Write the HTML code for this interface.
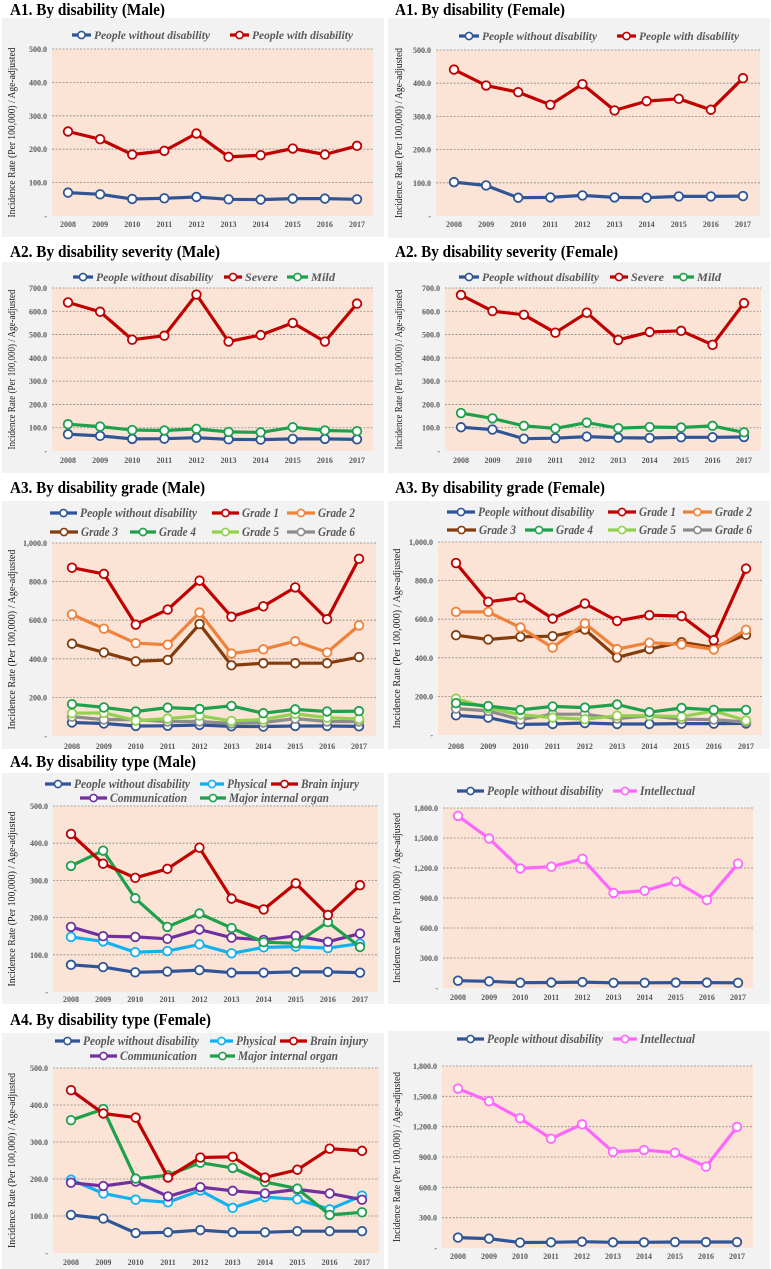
<!DOCTYPE html>
<html><head><meta charset="utf-8">
<style>
html,body{margin:0;padding:0;background:#fff;}
svg{display:block;font-family:"Liberation Serif",serif;}
</style></head>
<body>
<svg id="root" width="771" height="1269" viewBox="0 0 771 1269"></svg>
<script>
// ---- data ----
const years = ["2008","2009","2010","2011","2012","2013","2014","2015","2016","2017"];
const a1mWithout = [70,65,51,53,57,50,49,52,52,50];
const a1mWith = [253,230,184,195,247,177,182,202,184,210];
const a1fWithout = [102,92,55,56,62,56,55,59,59,60];
const a1fWith = [441,393,373,335,397,318,346,353,320,415];
const a2mWithout = [72,65,52,53,57,50,49,52,52,50];
const a2mSevere = [638,598,478,495,672,470,498,550,470,633];
const a2mMild = [115,105,90,88,95,82,80,102,88,85];
const a2fWithout = [102,92,53,55,62,57,56,59,59,60];
const a2fSevere = [670,601,585,508,594,477,511,516,456,635];
const a2fMild = [163,140,108,97,122,98,103,101,108,80];
const a3mWithout = [70,65,52,53,57,50,49,52,52,50];
const a3mG1 = [872,840,577,655,805,618,672,770,605,918];
const a3mG2 = [630,556,481,473,640,427,449,491,433,573];
const a3mG3 = [478,433,387,394,580,366,377,377,377,409];
const a3mG4 = [165,148,127,147,140,156,118,138,127,129];
const a3mG5 = [118,120,80,90,105,78,85,115,95,88];
const a3mG6 = [100,85,85,75,75,65,70,90,75,75];
const a3fWithout = [102,90,55,57,62,57,57,59,59,60];
const a3fG1 = [891,690,712,603,681,591,621,616,491,862];
const a3fG2 = [638,638,557,453,578,445,478,469,443,545];
const a3fG3 = [517,495,509,512,547,402,445,481,453,519];
const a3fG4 = [165,150,130,148,142,158,118,140,130,130];
const a3fG5 = [188,140,105,90,82,100,100,95,125,75];
const a3fG6 = [137,125,80,108,108,85,100,82,80,67];
const a4mWithout = [73,67,53,55,59,52,52,54,54,52];
const a4mPhysical = [148,136,107,110,128,104,120,122,118,130];
const a4mBrain = [425,345,307,331,388,251,222,292,207,287];
const a4mComm = [175,150,148,143,168,146,140,151,135,157];
const a4mOrgan = [339,380,252,175,211,172,134,131,188,121];
const a4mIntel = [1721,1495,1196,1213,1292,950,973,1063,880,1243];
const a4fWithout = [103,93,54,56,62,56,56,59,59,59];
const a4fPhysical = [198,161,144,137,169,122,151,145,118,155];
const a4fBrain = [440,377,366,204,258,260,204,225,282,276];
const a4fComm = [190,181,193,153,178,168,161,172,161,144];
const a4fOrgan = [359,389,201,210,244,230,192,174,103,110];
const a4fIntel = [1576,1451,1283,1081,1223,950,969,943,805,1197];
const ticks500 = [0,100,200,300,400,500];
const ticks700 = [0,100,200,300,400,500,600,700];
const ticks1000 = [0,200,400,600,800,1000];
const ticks1800 = [0,300,600,900,1200,1500,1800];

const C = {blue:"#2f5597",red:"#c00000",green:"#1ea04c",orange:"#f0813a",brown:"#843c0c",lgreen:"#92d050",gray:"#8c8c8c",cyan:"#13b0ef",purple:"#7030a0",pink:"#ff66ff"};
const NS="http://www.w3.org/2000/svg";
const root=document.getElementById('root');
function mk(tag,attrs,parent){const e=document.createElementNS(NS,tag);for(const k in attrs)e.setAttribute(k,attrs[k]);(parent||root).appendChild(e);return e;}
function fmt(v){if(v===0)return "-";let s=String(Math.floor(v));s=s.replace(/\B(?=(\d{3})+(?!\d))/g,",");return s+".0";}

function panel(cfg){
  const g=mk('g',{});
  
  
  const t=mk('text',{x:cfg.title[0],y:cfg.title[1],'font-size':17,'font-weight':'bold',fill:'#000',textLength:cfg.title[2],lengthAdjust:'spacingAndGlyphs'},g);
  t.textContent=cfg.titleText;
  
  
  const b=cfg.box;
  const bg=mk('rect',{x:b[0],y:b[1],width:b[2]-b[0],height:b[3]-b[1],fill:'#f2f2f2'},g);
  
  
  const p=cfg.plot; // left,right,top,bottom
  const pa=mk('rect',{x:p[0],y:p[2],width:p[1]-p[0],height:p[3]-p[2],fill:'#fbe4d5'},g);
  
  
  const ymax=cfg.ticks[cfg.ticks.length-1];
  const yS=v=>p[3]-(v/ymax)*(p[3]-p[2]);
  const xS=i=>cfg.x0+(cfg.x1-cfg.x0)*i/(years.length-1);
  cfg.ticks.forEach(v=>{
    if(v>0){const gl=mk('line',{x1:p[0],x2:p[1],y1:yS(v),y2:yS(v),stroke:'#8a8a8a','stroke-width':0.8,'stroke-dasharray':'2,1.5'},g);
      
      }
    const tl=mk('text',{x:p[0]-5,y:yS(v)+3,'font-size':8,'font-weight':'bold',fill:'#595959','text-anchor':'end'},g);
    tl.textContent=fmt(v);
    
    
  });
  years.forEach((yr,i)=>{
    const xl=mk('text',{x:xS(i),y:cfg.xlabY+3,'font-size':8,'font-weight':'bold',fill:'#595959','text-anchor':'middle'},g);
    xl.textContent=yr;
    
    
  });
  const cy=(p[2]+p[3])/2;
  const yt=mk('text',{x:0,y:0,'font-size':11,fill:'#222','text-anchor':'middle',transform:`translate(${cfg.ytX},${cy}) rotate(-90)`,textLength:cfg.ytLen||170,lengthAdjust:'spacingAndGlyphs'},g);
  yt.textContent="Incidence Rate (Per 100,000) / Age-adjusted";
  
  
  cfg.series.forEach(s=>{
    const sg=mk('g',{},g);
    
    
    const pts=s.values.map((v,i)=>xS(i).toFixed(1)+','+yS(v).toFixed(1)).join(' ');
    const pl=mk('polyline',{points:pts,fill:'none',stroke:s.color,'stroke-width':3.2,'stroke-linejoin':'round'},sg);
    
    
    s.values.forEach((v,i)=>{
      const c=mk('circle',{cx:xS(i),cy:yS(v),r:4.3,fill:'#fff',stroke:s.color,'stroke-width':1.8},sg);
      
      
    });
  });
  cfg.legend.forEach(l=>{
    const s=cfg.series.find(q=>q.key===l.key);
    const lg=mk('g',{},g);
    
    
    mk('line',{x1:l.lx,x2:l.tx-3,y1:l.y,y2:l.y,stroke:s.color,'stroke-width':3.2},lg);
    mk('circle',{cx:(l.lx+l.tx-3)/2,cy:l.y,r:3.6,fill:'#fff',stroke:s.color,'stroke-width':1.6},lg);
    const tt=mk('text',{x:l.tx,y:l.y+4,'font-size':l.fs||12,'font-style':'italic','font-weight':'bold',fill:'#595959',textLength:l.w,lengthAdjust:'spacingAndGlyphs'},lg);
    tt.textContent=s.name;
  });
}

const W="People without disability";
// A1 Male
panel({id:'a1-male',titleText:"A1. By disability (Male)",title:[10,15,155],box:[2,18,384,237],plot:[52,373,49,216],x0:68,x1:357,xlabY:224,ytX:15,ticks:ticks500,
 series:[{key:'without',name:W,color:C.blue,values:a1mWithout},{key:'with',name:"People with disability",color:C.red,values:a1mWith}],
 legend:[{key:'without',lx:72,tx:94,w:116,y:35},{key:'with',lx:230,tx:252,w:101,y:35}]});
// A1 Female
panel({id:'a1-female',titleText:"A1. By disability (Female)",title:[395,15,170],box:[388,18,770,238],plot:[436,760,50,216],x0:454,x1:743,xlabY:224,ytX:402,ticks:ticks500,
 series:[{key:'without',name:W,color:C.blue,values:a1fWithout},{key:'with',name:"People with disability",color:C.red,values:a1fWith}],
 legend:[{key:'without',lx:459,tx:482,w:115,y:36},{key:'with',lx:617,tx:639,w:100,y:36}]});
// A2 Male
panel({id:'a2-male',titleText:"A2. By disability severity (Male)",title:[10,257,210],box:[2,262,384,473],plot:[52,373,288,451],x0:68,x1:357,xlabY:460,ytX:15,ticks:ticks700,ytLen:160,
 series:[{key:'without',name:W,color:C.blue,values:a2mWithout},{key:'severe',name:"Severe",color:C.red,values:a2mSevere},{key:'mild',name:"Mild",color:C.green,values:a2mMild}],
 legend:[{key:'without',lx:73,tx:96,w:117,y:277},{key:'severe',lx:224,tx:245,w:33,y:277},{key:'mild',lx:287,tx:311,w:24,y:277}]});
// A2 Female
panel({id:'a2-female',titleText:"A2. By disability severity (Female)",title:[395,257,223],box:[388,262,770,473],plot:[445,761,288,451],x0:461,x1:744,xlabY:460,ytX:402,ticks:ticks700,ytLen:160,
 series:[{key:'without',name:W,color:C.blue,values:a2fWithout},{key:'severe',name:"Severe",color:C.red,values:a2fSevere},{key:'mild',name:"Mild",color:C.green,values:a2fMild}],
 legend:[{key:'without',lx:459,tx:482,w:117,y:277},{key:'severe',lx:610,tx:631,w:33,y:277},{key:'mild',lx:673,tx:697,w:24,y:277}]});
// A3 Male
panel({id:'a3-male',titleText:"A3. By disability grade (Male)",title:[10,493,195],box:[2,501,384,749],plot:[52,376,543,736],x0:72,x1:359,xlabY:746,ytX:15,ticks:ticks1000,ytLen:180,
 series:[{key:'without',name:W,color:C.blue,values:a3mWithout},{key:'g6',name:"Grade 6",color:C.gray,values:a3mG6},{key:'g5',name:"Grade 5",color:C.lgreen,values:a3mG5},{key:'g4',name:"Grade 4",color:C.green,values:a3mG4},{key:'g3',name:"Grade 3",color:C.brown,values:a3mG3},{key:'g2',name:"Grade 2",color:C.orange,values:a3mG2},{key:'g1',name:"Grade 1",color:C.red,values:a3mG1}],
 legend:[{key:'without',lx:50,tx:80,w:117,y:513,fs:13},{key:'g1',lx:212,tx:242,w:37,y:513,fs:13},{key:'g2',lx:287,tx:318,w:37,y:513,fs:13},
 {key:'g3',lx:50,tx:81,w:37,y:532,fs:13},{key:'g4',lx:130,tx:159,w:37,y:532,fs:13},{key:'g5',lx:212,tx:242,w:37,y:532,fs:13},{key:'g6',lx:287,tx:318,w:37,y:532,fs:13}]});
// A3 Female
panel({id:'a3-female',titleText:"A3. By disability grade (Female)",title:[395,493,210],box:[388,501,770,749],plot:[438,762,542,735],x0:456,x1:746,xlabY:746,ytX:400,ticks:ticks1000,ytLen:180,
 series:[{key:'without',name:W,color:C.blue,values:a3fWithout},{key:'g6',name:"Grade 6",color:C.gray,values:a3fG6},{key:'g5',name:"Grade 5",color:C.lgreen,values:a3fG5},{key:'g4',name:"Grade 4",color:C.green,values:a3fG4},{key:'g3',name:"Grade 3",color:C.brown,values:a3fG3},{key:'g2',name:"Grade 2",color:C.orange,values:a3fG2},{key:'g1',name:"Grade 1",color:C.red,values:a3fG1}],
 legend:[{key:'without',lx:447,tx:478,w:116,y:512,fs:13},{key:'g1',lx:608,tx:639,w:37,y:512,fs:13},{key:'g2',lx:683,tx:715,w:37,y:512,fs:13},
 {key:'g3',lx:447,tx:479,w:37,y:530,fs:13},{key:'g4',lx:525,tx:556,w:37,y:530,fs:13},{key:'g5',lx:608,tx:639,w:37,y:530,fs:13},{key:'g6',lx:683,tx:715,w:37,y:530,fs:13}]});
// A4 Male
panel({id:'a4-male',titleText:"A4. By disability type (Male)",title:[10,767,186],box:[2,773,384,1004],plot:[53,378,806,992],x0:71,x1:360,xlabY:999,ytX:15,ticks:ticks500,ytLen:175,
 series:[{key:'without',name:W,color:C.blue,values:a4mWithout},{key:'physical',name:"Physical",color:C.cyan,values:a4mPhysical},{key:'comm',name:"Communication",color:C.purple,values:a4mComm},{key:'organ',name:"Major internal organ",color:C.green,values:a4mOrgan},{key:'brain',name:"Brain injury",color:C.red,values:a4mBrain}],
 legend:[{key:'without',lx:45,tx:74,w:116,y:784,fs:13},{key:'physical',lx:200,tx:227,w:40,y:784,fs:13},{key:'brain',lx:271,tx:301,w:58,y:784,fs:13},
 {key:'comm',lx:80,tx:110,w:77,y:798,fs:13},{key:'organ',lx:200,tx:229,w:100,y:798,fs:13}]});
// A4 Male intellectual
panel({id:'a4-male-intellectual',titleText:"",title:[395,767,1],box:[388,773,770,1004],plot:[443,753,808,988],x0:458,x1:738,xlabY:997,ytX:400,ticks:ticks1800,ytLen:170,
 series:[{key:'without',name:W,color:C.blue,values:a4mWithout},{key:'intel',name:"Intellectual",color:C.pink,values:a4mIntel}],
 legend:[{key:'without',lx:457,tx:487,w:116,y:791,fs:13},{key:'intel',lx:613,tx:640,w:55,y:791,fs:13}]});
// A4 Female
panel({id:'a4-female',titleText:"A4. By disability type (Female)",title:[10,1025,201],box:[2,1033,384,1269],plot:[53,379,1068,1253],x0:71,x1:362,xlabY:1262,ytX:15,ticks:ticks500,ytLen:175,
 series:[{key:'without',name:W,color:C.blue,values:a4fWithout},{key:'physical',name:"Physical",color:C.cyan,values:a4fPhysical},{key:'comm',name:"Communication",color:C.purple,values:a4fComm},{key:'organ',name:"Major internal organ",color:C.green,values:a4fOrgan},{key:'brain',name:"Brain injury",color:C.red,values:a4fBrain}],
 legend:[{key:'without',lx:55,tx:83,w:116,y:1041,fs:13},{key:'physical',lx:210,tx:236,w:40,y:1041,fs:13},{key:'brain',lx:280,tx:310,w:58,y:1041,fs:13},
 {key:'comm',lx:90,tx:120,w:77,y:1056,fs:13},{key:'organ',lx:210,tx:238,w:100,y:1056,fs:13}]});
// A4 Female intellectual
panel({id:'a4-female-intellectual',titleText:"",title:[395,1025,1],box:[388,1031,770,1269],plot:[442,753,1066,1248],x0:458,x1:737,xlabY:1256,ytX:400,ticks:ticks1800,ytLen:170,
 series:[{key:'without',name:W,color:C.blue,values:a4fWithout},{key:'intel',name:"Intellectual",color:C.pink,values:a4fIntel}],
 legend:[{key:'without',lx:457,tx:487,w:116,y:1039,fs:13},{key:'intel',lx:613,tx:640,w:55,y:1039,fs:13}]});
</script>
</body></html>
